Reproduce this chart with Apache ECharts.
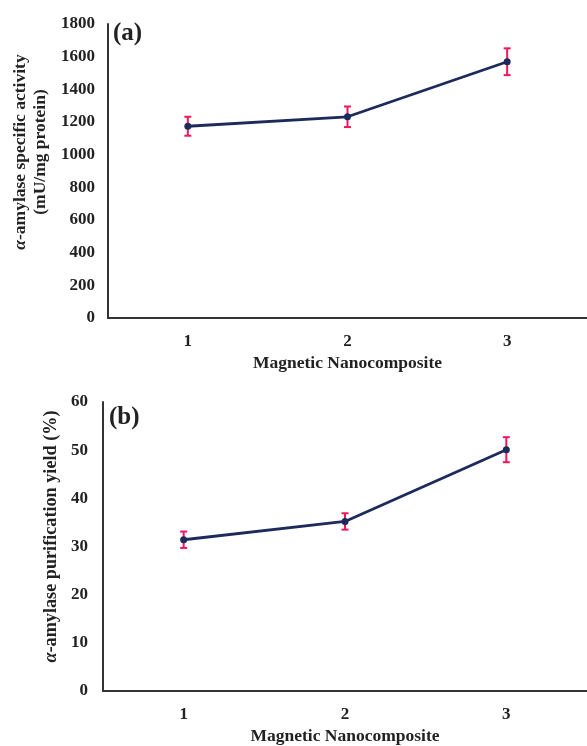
<!DOCTYPE html>
<html>
<head>
<meta charset="utf-8">
<script src="https://cdn.jsdelivr.net/npm/echarts@6/dist/echarts.min.js"></script>
<style>
  html, body { margin: 0; padding: 0; background: #fff; }
  #chart { width: 587px; height: 746px; }
</style>
</head>
<body>
<div id="chart"></div>
<script>
// values
const categories = ['1', '2', '3']
const activity = [1174, 1232, 1569]
const activityErr = [58, 63, 82]
const yieldPct = [31.4, 35.2, 50.1]
const yieldErr = [1.7, 1.7, 2.6]

const font = 'Liberation Serif'
const navy = '#1c2a5c'
const red = '#f0185c'

const errorData = (vals, errs) => vals.map((v, i) => [i, v - errs[i], v + errs[i]])

function renderError (params, api) {
  const i = api.value(0)
  const lo = api.coord([i, api.value(1)])
  const hi = api.coord([i, api.value(2)])
  const w = 3.5
  const style = { stroke: red, lineWidth: 2 }
  return {
    type: 'group',
    children: [
      { type: 'line', shape: { x1: hi[0], y1: hi[1], x2: lo[0], y2: lo[1] }, style },
      { type: 'line', shape: { x1: hi[0] - w, y1: hi[1], x2: hi[0] + w, y2: hi[1] }, style },
      { type: 'line', shape: { x1: lo[0] - w, y1: lo[1], x2: lo[0] + w, y2: lo[1] }, style }
    ]
  }
}

const tickText = { fontFamily: font, fontWeight: 'bold', fontSize: 17, color: '#222' }
const nameText = { fontFamily: font, fontWeight: 'bold', fontSize: 17.5, color: '#222' }
const richFor = size => ({
  i: { fontFamily: font, fontWeight: 'bold', fontStyle: 'italic', fontSize: size, color: '#222' }
})

function xAxis (gridIndex) {
  return {
    type: 'category',
    gridIndex,
    data: categories,
    axisLine: { lineStyle: { color: '#333', width: 2 } },
    axisTick: { show: false },
    axisLabel: Object.assign({ margin: 15 }, tickText),
    name: 'Magnetic Nanocomposite',
    nameLocation: 'middle',
    nameGap: 36,
    nameTextStyle: nameText
  }
}

const plain = v => String(v)

const chart = echarts.init(document.getElementById('chart'))
chart.setOption({
  animation: false,
  grid: [
    { left: 108, top: 24, width: 483, height: 294 },
    { left: 103, top: 402, width: 493, height: 290 }
  ],
  graphic: [
    { type: 'text', left: 113, top: 21, style: { text: '(a)', font: 'bold 25px "Liberation Serif"', fill: '#222' } },
    { type: 'text', left: 109, top: 405, style: { text: '(b)', font: 'bold 25px "Liberation Serif"', fill: '#222' } }
  ],
  xAxis: [xAxis(0), xAxis(1)],
  yAxis: [
    {
      type: 'value',
      gridIndex: 0,
      min: 0,
      max: 1800,
      interval: 200,
      splitLine: { show: false },
      axisLine: { show: true, lineStyle: { color: '#333', width: 2 } },
      axisLabel: Object.assign({ margin: 13, formatter: plain }, tickText),
      name: '{i|α}-amylase specific activity\n(mU/mg protein)',
      nameLocation: 'middle',
      nameGap: 49,
      nameTextStyle: Object.assign({ rich: richFor(17.5), lineHeight: 20, padding: [0, 0, 0, 38] }, nameText)
    },
    {
      type: 'value',
      gridIndex: 1,
      min: 0,
      max: 60,
      interval: 10,
      splitLine: { show: false },
      axisLine: { show: true, lineStyle: { color: '#333', width: 2 } },
      axisLabel: Object.assign({ margin: 15 }, tickText),
      name: '{i|α}-amylase purification yield (%)',
      nameLocation: 'middle',
      nameGap: 43,
      nameTextStyle: Object.assign({ rich: richFor(18.2), padding: [0, 0, 0, 20] }, nameText, { fontSize: 18.2 })
    }
  ],
  series: [
    {
      type: 'custom',
      xAxisIndex: 0,
      yAxisIndex: 0,
      renderItem: renderError,
      data: errorData(activity, activityErr),
      z: 1
    },
    {
      type: 'line',
      xAxisIndex: 0,
      yAxisIndex: 0,
      data: activity,
      symbol: 'circle',
      symbolSize: 7,
      lineStyle: { color: navy, width: 2.8 },
      itemStyle: { color: navy },
      z: 2
    },
    {
      type: 'custom',
      xAxisIndex: 1,
      yAxisIndex: 1,
      renderItem: renderError,
      data: errorData(yieldPct, yieldErr),
      z: 1
    },
    {
      type: 'line',
      xAxisIndex: 1,
      yAxisIndex: 1,
      data: yieldPct,
      symbol: 'circle',
      symbolSize: 7,
      lineStyle: { color: navy, width: 2.8 },
      itemStyle: { color: navy },
      z: 2
    }
  ]
})
</script>
</body>
</html>
